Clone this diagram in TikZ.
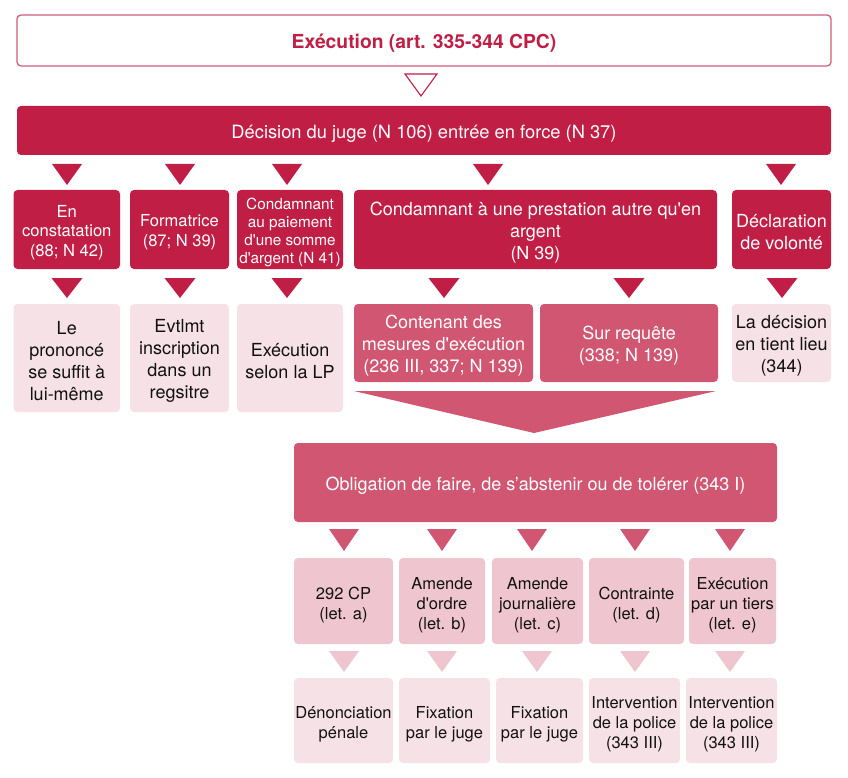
\documentclass[tikz,border=0pt]{standalone}
\usepackage{fontspec}
\setmainfont{TeX Gyre Heros}
\definecolor{crim}{HTML}{C01E45}
\definecolor{mpink}{HTML}{D05672}
\definecolor{lpink}{HTML}{EFC6CF}
\definecolor{vlpink}{HTML}{F6E2E6}
\definecolor{outl}{HTML}{D05E78}
\definecolor{ink}{HTML}{111111}
\newcommand\fs[2]{\fontsize{#1}{#2}\selectfont}
\newcommand\sq{\textquotesingle}
\tikzset{
  bx/.style={rounded corners=4pt, inner sep=0pt, align=center},
  crimbox/.style={bx, fill=crim, text=white},
  midbox/.style={bx, fill=mpink, text=white},
  letbox/.style={bx, fill=lpink, text=ink},
  palebox/.style={bx, fill=vlpink, text=ink},
  titlebox/.style={bx, draw=outl, line width=1.3pt, fill=white, text=crim},
  big/.style={font=\fs{18}{22}},
  small/.style={font=\fs{16.5}{20}, tshift=-4pt},
  tshift/.initial=-3pt,
  textonly/.style={fill=none, draw=none, minimum width=0pt, minimum height=0pt},
}
% \mybox{style}{name}{x1}{x2}{y1}{y2}{text}
\newcommand\mybox[7]{%
  \node[#1, minimum width={(#4-#3)*1pt}, minimum height={(#6-#5)*1pt}] (#2) at ({(#3+#4)/2},{(#5+#6)/2}) {};
  \node[#1, textonly, yshift=\pgfkeysvalueof{/tikz/tshift}] (#2-text) at (#2.center) {#7};}
% \dtri{colour}{cx}{ytop}{ybottom}{halfwidth}
\newcommand\dtri[5]{\fill[#1] (#2-#5,#3) -- (#2+#5,#3) -- (#2,#4) -- cycle;}
\begin{document}
\begin{tikzpicture}[x=1pt,y=-1pt]
\useasboundingbox (0,0) rectangle (848,778);

% top
\mybox{titlebox, font=\bfseries\fs{19.3}{22}}{top}{17}{831}{15}{66}{Exécution (art. 335-344 CPC)}
\draw[crim, line width=1.1pt, fill=white, line join=miter] (405,74) -- (437,74) -- (421,96) -- cycle;
\mybox{crimbox, font=\fs{18.3}{22}}{dec}{17}{831}{106}{155}{Décision du juge (N 106) entrée en force (N 37)}

% row 1 triangles
\foreach \cx in {67,180,287,488,781} {\dtri{crim}{\cx}{164}{185}{15}}

% row 2
\mybox{crimbox, font=\fs{16.6}{19.5}}{A}{13.5}{120}{190}{269}{En\\constatation\\(88; N 42)}
\mybox{crimbox, font=\fs{16.5}{20}}{B}{130}{229}{190}{269}{Formatrice\\(87; N 39)}
\mybox{crimbox, font=\fs{15.3}{18.3}}{C}{237}{343}{190}{269}{Condamnant\\au paiement\\d\sq une somme\\d\sq argent (N 41)}
\mybox{crimbox, big}{D}{354}{717}{190}{269}{Condamnant à une prestation autre qu\sq en\\argent\\(N 39)}
\mybox{crimbox, big}{E}{732}{831}{190}{269}{Déclaration\\de volonté}

% row 2 triangles
\foreach \cx in {67,180,287,444,629,782} {\dtri{crim}{\cx}{278}{298}{15.5}}

% row 3
\mybox{palebox, big}{LA}{13.5}{120}{304}{412}{Le\\prononcé\\se suffit à\\lui-même}
\mybox{palebox, big}{LB}{130}{229}{304}{412}{Evtlmt\\inscription\\dans un\\regsitre}
\mybox{palebox, big}{LC}{237}{343}{304}{412}{Exécution\\selon la LP}
\mybox{midbox, big}{M1}{354}{533}{304}{382}{Contenant des\\mesures d\sq exécution\\(236 III, 337; N 139)}
\mybox{midbox, big}{M2}{540}{718}{304}{382}{Sur requête\\(338; N 139)}
\mybox{palebox, big}{LE}{732}{831}{304}{382}{La décision\\en tient lieu\\(344)}

% big arrow
\fill[mpink] (354,391) -- (716,391) -- (534,433) -- cycle;

% obligation
\mybox{midbox, big}{obl}{294}{777}{443}{522}{Obligation de faire, de s’abstenir ou de tolérer (343 I)}

\foreach \cx in {344,442,532,635,730} {\dtri{mpink}{\cx}{529}{551}{15}}

% let. row
\mybox{letbox, small}{la}{294}{393}{558}{644}{292 CP\\(let. a)}
\mybox{letbox, small}{lb}{399}{485}{558}{644}{Amende\\d\sq ordre\\(let. b)}
\mybox{letbox, small}{lc}{492}{583}{558}{644}{Amende\\journalière\\(let. c)}
\mybox{letbox, small}{ld}{589}{684}{558}{644}{Contrainte\\(let. d)}
\mybox{letbox, small}{le}{689}{776}{558}{644}{Exécution\\par un tiers\\(let. e)}

\foreach \cx in {344,442,537,635,730} {\dtri{lpink}{\cx}{651}{672}{15}}

% bottom row
\mybox{palebox, small}{b1}{294}{393}{678}{763}{Dénonciation\\pénale}
\mybox{palebox, small}{b2}{399}{490}{678}{763}{Fixation\\par le juge}
\mybox{palebox, small}{b3}{496}{583}{678}{763}{Fixation\\par le juge}
\mybox{palebox, small}{b4}{589}{680}{678}{763}{Intervention\\de la police\\(343 III)}
\mybox{palebox, small}{b5}{686}{777}{678}{763}{Intervention\\de la police\\(343 III)}
\end{tikzpicture}
\end{document}
